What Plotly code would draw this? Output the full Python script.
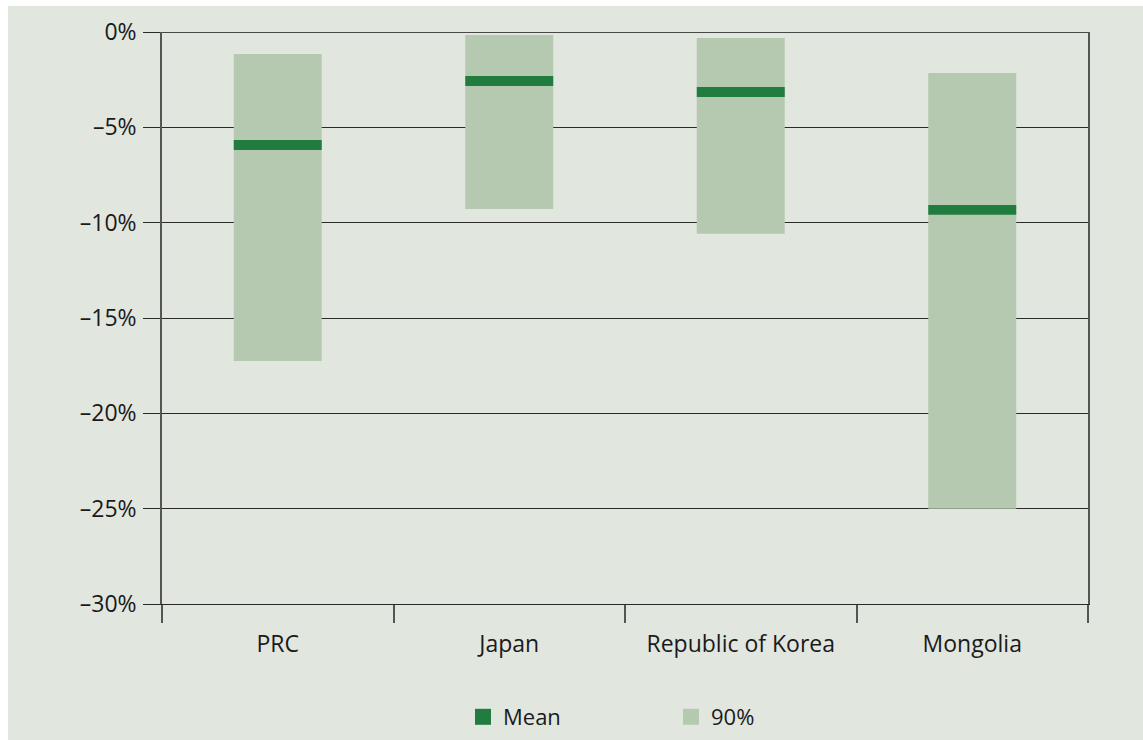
import plotly.graph_objects as go

# Estimated losses by economy: mean and 90% range (percent)
economies = ["PRC", "Japan", "Republic of Korea", "Mongolia"]
range_top = [-1.15, -0.16, -0.31, -2.15]
range_bottom = [-17.25, -9.28, -10.58, -25.0]
mean_value = [-5.93, -2.57, -3.15, -9.33]
mean_thickness = 0.52  # visual thickness of the mean marker, in % units

y_ticks = [0, -5, -10, -15, -20, -25, -30]
y_tick_labels = ["0%", "\u20135%", "\u201310%", "\u201315%", "\u201320%", "\u201325%", "\u201330%"]

BG = "#e1e6df"
RANGE_COLOR = "#b5c9b0"
MEAN_COLOR = "#217c3f"
TEXT = "#1a1a1a"
FONT = "Open Sans"
FS = 23

W, H = 1143, 740
L, R, T, B = 162, 55, 32, 136
pw, ph = W - L - R, H - T - B

fig = go.Figure()

# 90% range bars
fig.add_trace(go.Bar(
    x=economies,
    base=range_bottom,
    y=[t - b for t, b in zip(range_top, range_bottom)],
    marker=dict(color=RANGE_COLOR, line=dict(width=0)),
    width=0.38,
    showlegend=False,
    hoverinfo="skip",
))

# mean markers
fig.add_trace(go.Bar(
    x=economies,
    base=[m - mean_thickness / 2 for m in mean_value],
    y=[mean_thickness] * len(mean_value),
    marker=dict(color=MEAN_COLOR, line=dict(width=0)),
    width=0.38,
    showlegend=False,
    hoverinfo="skip",
))

# legend entries
for name, color in [("Mean", MEAN_COLOR), ("90%", RANGE_COLOR)]:
    fig.add_trace(go.Scatter(
        x=[None], y=[None], mode="markers", name=name,
        marker=dict(symbol="square", size=16, color=color, line=dict(width=0)),
    ))

shapes = [
    # grey panel behind the chart
    dict(type="rect", xref="paper", yref="paper",
         x0=(8 - L) / pw, x1=(W - L) / pw + 0.01,
         y0=(T + ph - H) / ph - 0.01, y1=(T + ph - 6) / ph,
         fillcolor=BG, line=dict(width=0), layer="below"),
    # heavier line at 0%
    dict(type="line", xref="paper", yref="y", x0=0, x1=1, y0=0, y1=0,
         line=dict(color="#464a46", width=2), layer="above"),
]

fig.update_layout(
    width=W, height=H,
    margin=dict(l=L, r=R, t=T, b=B, pad=0, autoexpand=False),
    paper_bgcolor="white",
    plot_bgcolor="rgba(0,0,0,0)",
    barmode="overlay",
    font=dict(family=FONT, size=FS, color=TEXT),
    shapes=shapes,
    showlegend=True,
    legend=dict(
        orientation="h",
        xref="container", x=463 / W, xanchor="left",
        yref="container", y=1 - 717 / H, yanchor="middle",
        bgcolor="rgba(0,0,0,0)", font=dict(size=FS - 1, color=TEXT),
        entrywidth=163, entrywidthmode="pixels",
    ),
    xaxis=dict(
        type="category", categoryorder="array", categoryarray=economies,
        range=[-0.5, 3.5], automargin=False,
        showgrid=False, zeroline=False,
        showline=True, linecolor="#2a2a2a", linewidth=1,
        ticks="outside", tickson="boundaries", ticklen=18,
        tickcolor="#555555", tickwidth=1.5,
        tickfont=dict(size=FS, color=TEXT),
        ticklabelstandoff=19,
    ),
    yaxis=dict(
        range=[-30, 0], tickvals=y_ticks, ticktext=y_tick_labels,
        automargin=False,
        showgrid=True, gridcolor="#2a2a2a", gridwidth=1,
        zeroline=False,
        showline=True, mirror=True, linecolor="#555555", linewidth=1.5,
        ticks="outside", ticklen=17, tickcolor="#2a2a2a", tickwidth=1,
        tickfont=dict(size=FS, color=TEXT),
        ticklabelstandoff=2,
    ),
)

fig.write_html("out.html")
